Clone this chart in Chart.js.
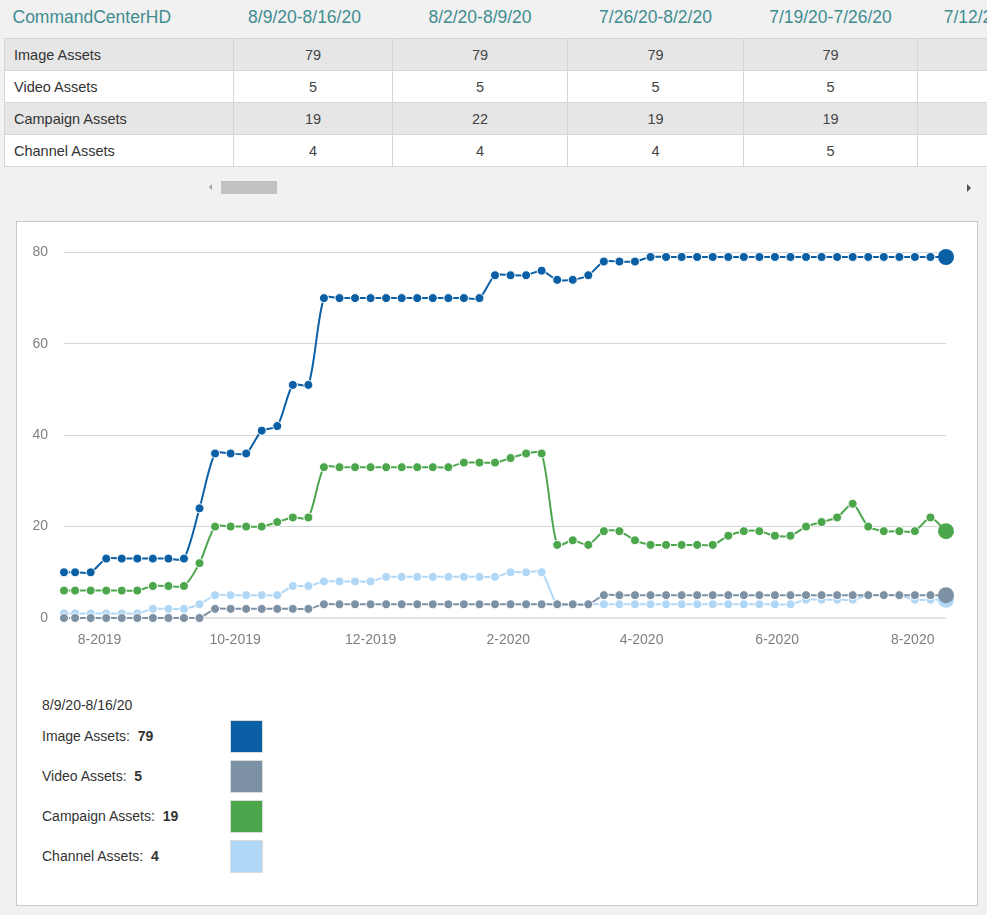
<!DOCTYPE html>
<html>
<head>
<meta charset="utf-8">
<script src="https://cdn.jsdelivr.net/npm/chart.js@4/dist/chart.umd.min.js"></script>
<style>
  html, body { margin: 0; padding: 0; }
  body {
    width: 987px; height: 915px; overflow: hidden; position: relative;
    background: #f1f1f1; font-family: "Liberation Sans", Arial, sans-serif;
  }
  #grid { position: absolute; left: 4px; top: 0; border-collapse: collapse; table-layout: fixed; width: 1088px; }
  #grid th { height: 31px; font-weight: normal; color: #3f8d90; font-size: 17.5px; text-align: center;
    padding: 7px 0 0 0; vertical-align: top; white-space: nowrap; }
  #grid th.corner { text-align: left; padding-left: 8px; }
  #grid th.first { padding-right: 17px; }
  #grid td { height: 31px; border: 1px solid #d6d6d6; text-align: center; font-size: 14.5px; color: #444; padding: 0; }
  #grid td.name { text-align: left; padding-left: 9px; color: #333; }
  #grid tr.alt td { background: #e6e6e6; }
  #grid tr.plain td { background: #fff; }
  .scroll-thumb { position: absolute; left: 221px; top: 181px; width: 56px; height: 13px; background: #c1c1c1; }
  .arrow-l { position: absolute; left: 209px; top: 184px; width: 0; height: 0;
    border-top: 3px solid transparent; border-bottom: 3px solid transparent; border-right: 3px solid #a0a0a0; }
  .arrow-r { position: absolute; left: 967px; top: 184px; width: 0; height: 0;
    border-top: 4px solid transparent; border-bottom: 4px solid transparent; border-left: 4px solid #505050; }
  #box { position: absolute; left: 16px; top: 221px; width: 960px; height: 683px; background: #fff; border: 1px solid #c9c9c9; }
  #plot { position: absolute; left: 20px; top: 228px; }
  .lg { position: absolute; font-size: 14px; color: #333; line-height: 16px; }
  .lg b { color: #333; }
  .sw { position: absolute; width: 31px; height: 31px; border: 1px solid #dcdcdc; }
</style>
</head>
<body>
<table id="grid"></table>
<div class="arrow-l"></div><div class="scroll-thumb"></div><div class="arrow-r"></div>
<div id="box"></div>
<canvas id="plot" width="950" height="434"></canvas>
<div id="legend"></div>
<script>
// week end dates (first point is a partial week)
var weekEnds = [
  "2019-07-16", "2019-07-21", "2019-07-28", "2019-08-04", "2019-08-11", "2019-08-18", "2019-08-25",
  "2019-09-01", "2019-09-08", "2019-09-15", "2019-09-22", "2019-09-29", "2019-10-06", "2019-10-13",
  "2019-10-20", "2019-10-27", "2019-11-03", "2019-11-10", "2019-11-17", "2019-11-24", "2019-12-01",
  "2019-12-08", "2019-12-15", "2019-12-22", "2019-12-29", "2020-01-05", "2020-01-12", "2020-01-19",
  "2020-01-26", "2020-02-02", "2020-02-09", "2020-02-16", "2020-02-23", "2020-03-01", "2020-03-08",
  "2020-03-15", "2020-03-22", "2020-03-29", "2020-04-05", "2020-04-12", "2020-04-19", "2020-04-26",
  "2020-05-03", "2020-05-10", "2020-05-17", "2020-05-24", "2020-05-31", "2020-06-07", "2020-06-14",
  "2020-06-21", "2020-06-28", "2020-07-05", "2020-07-12", "2020-07-19", "2020-07-26", "2020-08-02",
  "2020-08-09", "2020-08-16"
];

var imageAssets = [10, 10, 10, 13, 13, 13, 13, 13, 13, 24, 36, 36, 36, 41, 42, 51, 51, 70, 70, 70,
  70, 70, 70, 70, 70, 70, 70, 70, 75, 75, 75, 76, 74, 74, 75, 78, 78, 78, 79, 79,
  79, 79, 79, 79, 79, 79, 79, 79, 79, 79, 79, 79, 79, 79, 79, 79, 79, 79];
var videoAssets = [0, 0, 0, 0, 0, 0, 0, 0, 0, 0, 2, 2, 2, 2, 2, 2, 2, 3, 3, 3,
  3, 3, 3, 3, 3, 3, 3, 3, 3, 3, 3, 3, 3, 3, 3, 5, 5, 5, 5, 5,
  5, 5, 5, 5, 5, 5, 5, 5, 5, 5, 5, 5, 5, 5, 5, 5, 5, 5];
var campaignAssets = [6, 6, 6, 6, 6, 6, 7, 7, 7, 12, 20, 20, 20, 20, 21, 22, 22, 33, 33, 33,
  33, 33, 33, 33, 33, 33, 34, 34, 34, 35, 36, 36, 16, 17, 16, 19, 19, 17, 16, 16,
  16, 16, 16, 18, 19, 19, 18, 18, 20, 21, 22, 25, 20, 19, 19, 19, 22, 19];
var channelAssets = [1, 1, 1, 1, 1, 1, 2, 2, 2, 3, 5, 5, 5, 5, 5, 7, 7, 8, 8, 8,
  8, 9, 9, 9, 9, 9, 9, 9, 9, 10, 10, 10, 3, 3, 3, 3, 3, 3, 3, 3,
  3, 3, 3, 3, 3, 3, 3, 3, 4, 4, 4, 4, 5, 5, 5, 4, 4, 4];

var seriesNames = ["Image Assets", "Video Assets", "Campaign Assets", "Channel Assets"];
var seriesValues = [imageAssets, videoAssets, campaignAssets, channelAssets];
var seriesColors = ["#0b5fa5", "#7d91a5", "#4ca64c", "#b1d7f6"];
var drawOrder = [0, 2, 1, 3];   // lower is drawn on top

var yTicks = [0, 20, 40, 60, 80];
var xTickDates = ["2019-08-01", "2019-10-01", "2019-12-01", "2020-02-01", "2020-04-01", "2020-06-01", "2020-08-01"];

var tableTitle = "CommandCenterHD";
var tableWeeks = 5;   // newest first; the last column runs off the page

function toMs(s) {
  var p = s.split("-");
  return Date.UTC(+p[0], +p[1] - 1, +p[2]);
}
function shortDate(s) {
  var p = s.split("-");
  return (+p[1]) + "/" + (+p[2]) + "/" + p[0].slice(2);
}
function weekLabel(i) {
  return shortDate(weekEnds[i - 1]) + "-" + shortDate(weekEnds[i]);
}

// ---- table ----
var last = weekEnds.length - 1;
var colWidths = [229, 159, 175, 176, 174, 175];
var html = "<colgroup>";
colWidths.forEach(function(w) { html += '<col style="width:' + w + 'px">'; });
html += "</colgroup><tr><th class='corner'>" + tableTitle + "</th>";
for (var c = 0; c < tableWeeks; c++) {
  html += "<th" + (c === 0 ? " class='first'" : "") + ">" + weekLabel(last - c) + "</th>";
}
html += "</tr>";
seriesNames.forEach(function(name, r) {
  html += "<tr class='" + (r % 2 === 0 ? "alt" : "plain") + "'><td class='name'>" + name + "</td>";
  for (var c = 0; c < tableWeeks; c++) html += "<td>" + seriesValues[r][last - c] + "</td>";
  html += "</tr>";
});
document.getElementById("grid").innerHTML = html;

// ---- legend ----
var legend = document.getElementById("legend");
var head = document.createElement("div");
head.className = "lg";
head.style.left = "42px"; head.style.top = "697px";
head.textContent = weekLabel(last);
legend.appendChild(head);
seriesNames.forEach(function(name, r) {
  var row = document.createElement("div");
  row.className = "lg";
  row.style.left = "42px"; row.style.top = (728 + r * 40) + "px";
  row.innerHTML = name + ":&nbsp; <b>" + seriesValues[r][last] + "</b>";
  legend.appendChild(row);
  var sw = document.createElement("div");
  sw.className = "sw";
  sw.style.left = "230px"; sw.style.top = (720 + r * 40) + "px";
  sw.style.background = seriesColors[r];
  legend.appendChild(sw);
});

// ---- chart ----
var datasets = seriesNames.map(function(name, r) {
  return {
    label: name,
    data: seriesValues[r].map(function(v, i) { return { x: toMs(weekEnds[i]), y: v }; }),
    borderColor: seriesColors[r],
    backgroundColor: seriesColors[r],
    borderWidth: 2,
    tension: 0.25,
    order: drawOrder[r],
    clip: false,
    pointBackgroundColor: seriesColors[r],
    pointBorderColor: "#ffffff",
    pointRadius: function(ctx) { return ctx.dataIndex === last ? 8 : 4.5; },
    pointBorderWidth: function(ctx) { return ctx.dataIndex === last ? 0 : 1; }
  };
});

new Chart(document.getElementById("plot"), {
  type: "line",
  data: { datasets: datasets },
  options: {
    responsive: false,
    devicePixelRatio: 1,
    animation: false,
    layout: { padding: { left: 0, right: 24, top: 16, bottom: 0 } },
    plugins: { legend: { display: false }, tooltip: { enabled: false } },
    scales: {
      x: {
        type: "linear",
        min: toMs(weekEnds[0]),
        max: toMs(weekEnds[last]),
        afterBuildTicks: function(axis) {
          axis.ticks = xTickDates.map(function(d) { return { value: toMs(d) }; });
        },
        afterFit: function(scale) { scale.height = 44; },
        grid: { display: false, drawTicks: false },
        border: { display: false },
        ticks: {
          padding: 14,
          color: "#808080",
          font: { family: "'Liberation Sans', Arial, sans-serif", size: 14 },
          maxRotation: 0,
          autoSkip: false,
          callback: function(v) {
            var d = new Date(v);
            return (d.getUTCMonth() + 1) + "-" + d.getUTCFullYear();
          }
        }
      },
      y: {
        min: 0,
        max: 80,
        afterBuildTicks: function(axis) {
          axis.ticks = yTicks.map(function(v) { return { value: v }; });
        },
        afterFit: function(scale) { scale.width = 44; },
        grid: {
          drawTicks: false,
          color: function(ctx) { return ctx.tick && ctx.tick.value === 0 ? "#e3e3e3" : "#d6d6d6"; },
          lineWidth: function(ctx) { return ctx.tick && ctx.tick.value === 0 ? 2 : 1; }
        },
        border: { display: false },
        ticks: {
          padding: 16,
          color: "#808080",
          font: { family: "'Liberation Sans', Arial, sans-serif", size: 14 }
        }
      }
    }
  }
});
</script>
</body>
</html>
